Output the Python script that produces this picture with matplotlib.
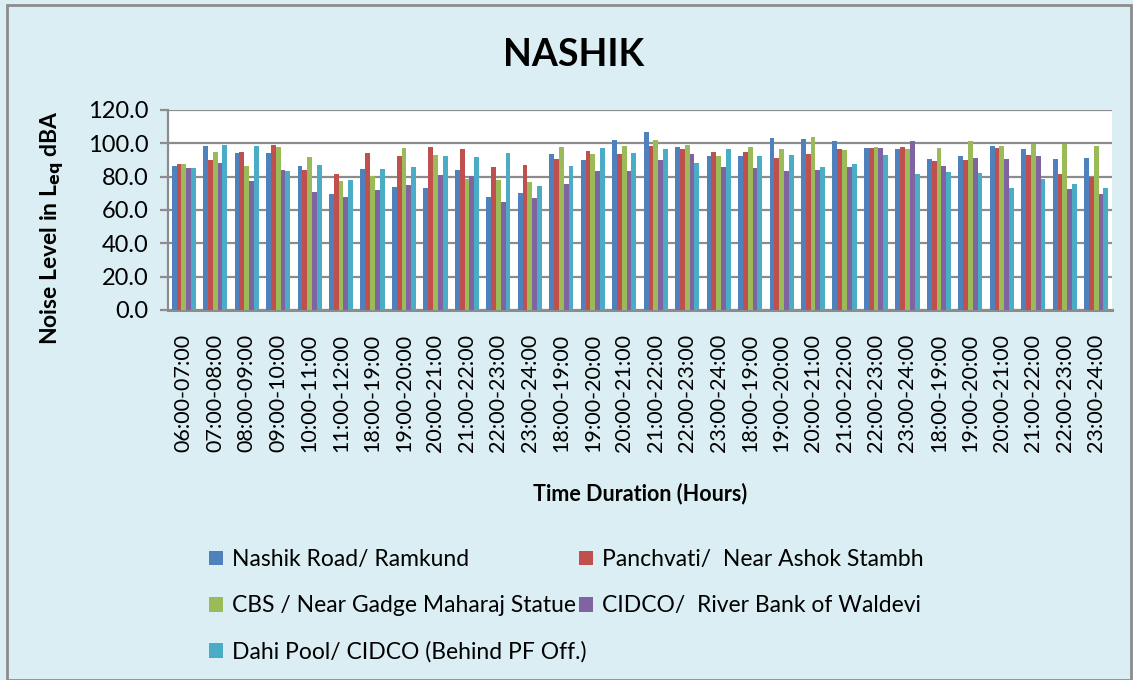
import numpy as np
import matplotlib
matplotlib.use('Agg')
import matplotlib.pyplot as plt
from matplotlib.patches import Rectangle, Patch

plt.rcParams['font.family'] = ['Lato', 'DejaVu Sans']

hours = ['06:00-07:00', '07:00-08:00', '08:00-09:00', '09:00-10:00', '10:00-11:00', '11:00-12:00'] + \
        ['18:00-19:00', '19:00-20:00', '20:00-21:00', '21:00-22:00', '22:00-23:00', '23:00-24:00'] * 4

series_names = ['Nashik Road/ Ramkund', 'Panchvati/  Near Ashok Stambh',
                'CBS / Near Gadge Maharaj Statue', 'CIDCO/  River Bank of Waldevi',
                'Dahi Pool/ CIDCO (Behind PF Off.)']

nashik_road = [86.4, 98.2, 94.2, 94.0, 86.2, 69.6, 84.8, 73.6, 73.4, 84.0, 67.8, 70.2,
               93.6, 89.8, 102.0, 107.0, 97.8, 92.6, 92.2, 103.0, 102.8, 101.6, 97.0, 96.6,
               90.4, 92.4, 98.2, 96.4, 90.6, 91.2]
panchvati = [87.6, 90.0, 95.0, 99.2, 83.8, 81.6, 94.0, 92.6, 97.8, 96.4, 85.6, 87.2,
             90.4, 95.4, 93.6, 98.6, 96.8, 94.6, 94.8, 91.4, 93.8, 96.4, 97.0, 97.6,
             89.4, 90.2, 97.0, 93.0, 81.6, 79.8]
cbs = [87.4, 94.6, 86.4, 97.6, 92.0, 77.2, 80.6, 97.2, 92.8, 78.6, 78.0, 76.8,
       97.6, 93.6, 98.4, 101.8, 99.0, 92.4, 97.6, 96.8, 103.6, 96.0, 97.8, 96.8,
       97.0, 101.6, 98.4, 99.6, 99.4, 98.4]
cidco = [85.0, 88.0, 77.4, 84.2, 70.8, 68.0, 71.8, 75.0, 81.0, 80.2, 64.8, 67.4,
         75.8, 83.4, 83.4, 89.8, 93.4, 85.6, 85.2, 83.4, 84.0, 85.6, 97.4, 101.6,
         86.4, 91.2, 90.4, 92.4, 72.8, 69.4]
dahi_pool = [85.2, 99.2, 98.6, 83.4, 87.0, 78.0, 84.4, 85.6, 92.6, 91.8, 94.0, 74.2,
             86.2, 97.0, 94.0, 96.6, 88.2, 96.4, 92.4, 93.2, 85.6, 87.6, 93.0, 81.6,
             83.0, 82.4, 73.0, 78.6, 75.4, 73.4]

colors = ['#4F81BD', '#C0504D', '#9BBB59', '#8064A2', '#4BACC6']
values = [nashik_road, panchvati, cbs, cidco, dahi_pool]

bg = '#DAEEF3'
grid_c = '#8C8C8C'

fig = plt.figure(figsize=(11.33, 6.8), dpi=100, facecolor=bg)
fig.patches.append(Rectangle((7 / 1133, 0.0), 1124 / 1133, 675 / 680, transform=fig.transFigure,
                             fill=False, edgecolor='#8C8C8C', linewidth=2))

ax = fig.add_axes([168 / 1133, 1 - 310 / 680, 944 / 1133, 200 / 680])
ax.set_facecolor('white')

x = np.arange(len(hours))
w = 0.153
for i, (vals, c, name) in enumerate(zip(values, colors, series_names)):
    ax.bar(x + (i - 2) * w, vals, width=w, color=c, linewidth=0, label=name, zorder=3)

ax.set_xlim(-0.5, len(hours) - 0.5)
ax.set_ylim(0, 120)
ax.set_yticks(np.arange(0, 121, 20))
ax.set_yticklabels([f'{v:.1f}' for v in np.arange(0, 121, 20)], fontsize=17)
ax.yaxis.grid(True, color=grid_c, linewidth=1.6, zorder=0)
ax.set_axisbelow(True)
ax.set_xticks(x)
ax.set_xticklabels(hours, rotation=90, fontsize=15.5, va='top')
ax.tick_params(axis='x', length=0, pad=17)
ax.tick_params(axis='y', length=6, width=1.6, color=grid_c, pad=8)
for s in ['top', 'right']:
    ax.spines[s].set_visible(False)
ax.spines['left'].set_color(grid_c)
ax.spines['left'].set_linewidth(1.6)
ax.spines['bottom'].set_color(grid_c)
ax.spines['bottom'].set_linewidth(2.2)

ax.set_ylabel('Noise Level in L$_{\\mathbf{eq}}$ dBA', fontsize=16.5, fontweight='bold')
ax.yaxis.set_label_coords(-0.108, 0.415)
ax.set_xlabel('Time Duration (Hours)', fontsize=15.5, fontweight='bold', labelpad=22)
fig.text(574 / 1133, 1 - 55 / 680, 'NASHIK', fontsize=27, fontweight='bold', ha='center', va='center')

order = [0, 2, 4, 1, 3]
handles = [Patch(facecolor=colors[k], edgecolor='none') for k in order]
labels = [series_names[k] for k in order]
fig.legend(handles, labels, ncol=2, loc='upper left', bbox_to_anchor=(209 / 1133, 1 - 549 / 680),
           frameon=False, fontsize=16.5, handlelength=0.62, handleheight=0.62, handletextpad=0.4,
           columnspacing=-0.35, labelspacing=1.1, borderpad=0, borderaxespad=0)

fig.savefig('out.png', dpi=100, facecolor=bg)
